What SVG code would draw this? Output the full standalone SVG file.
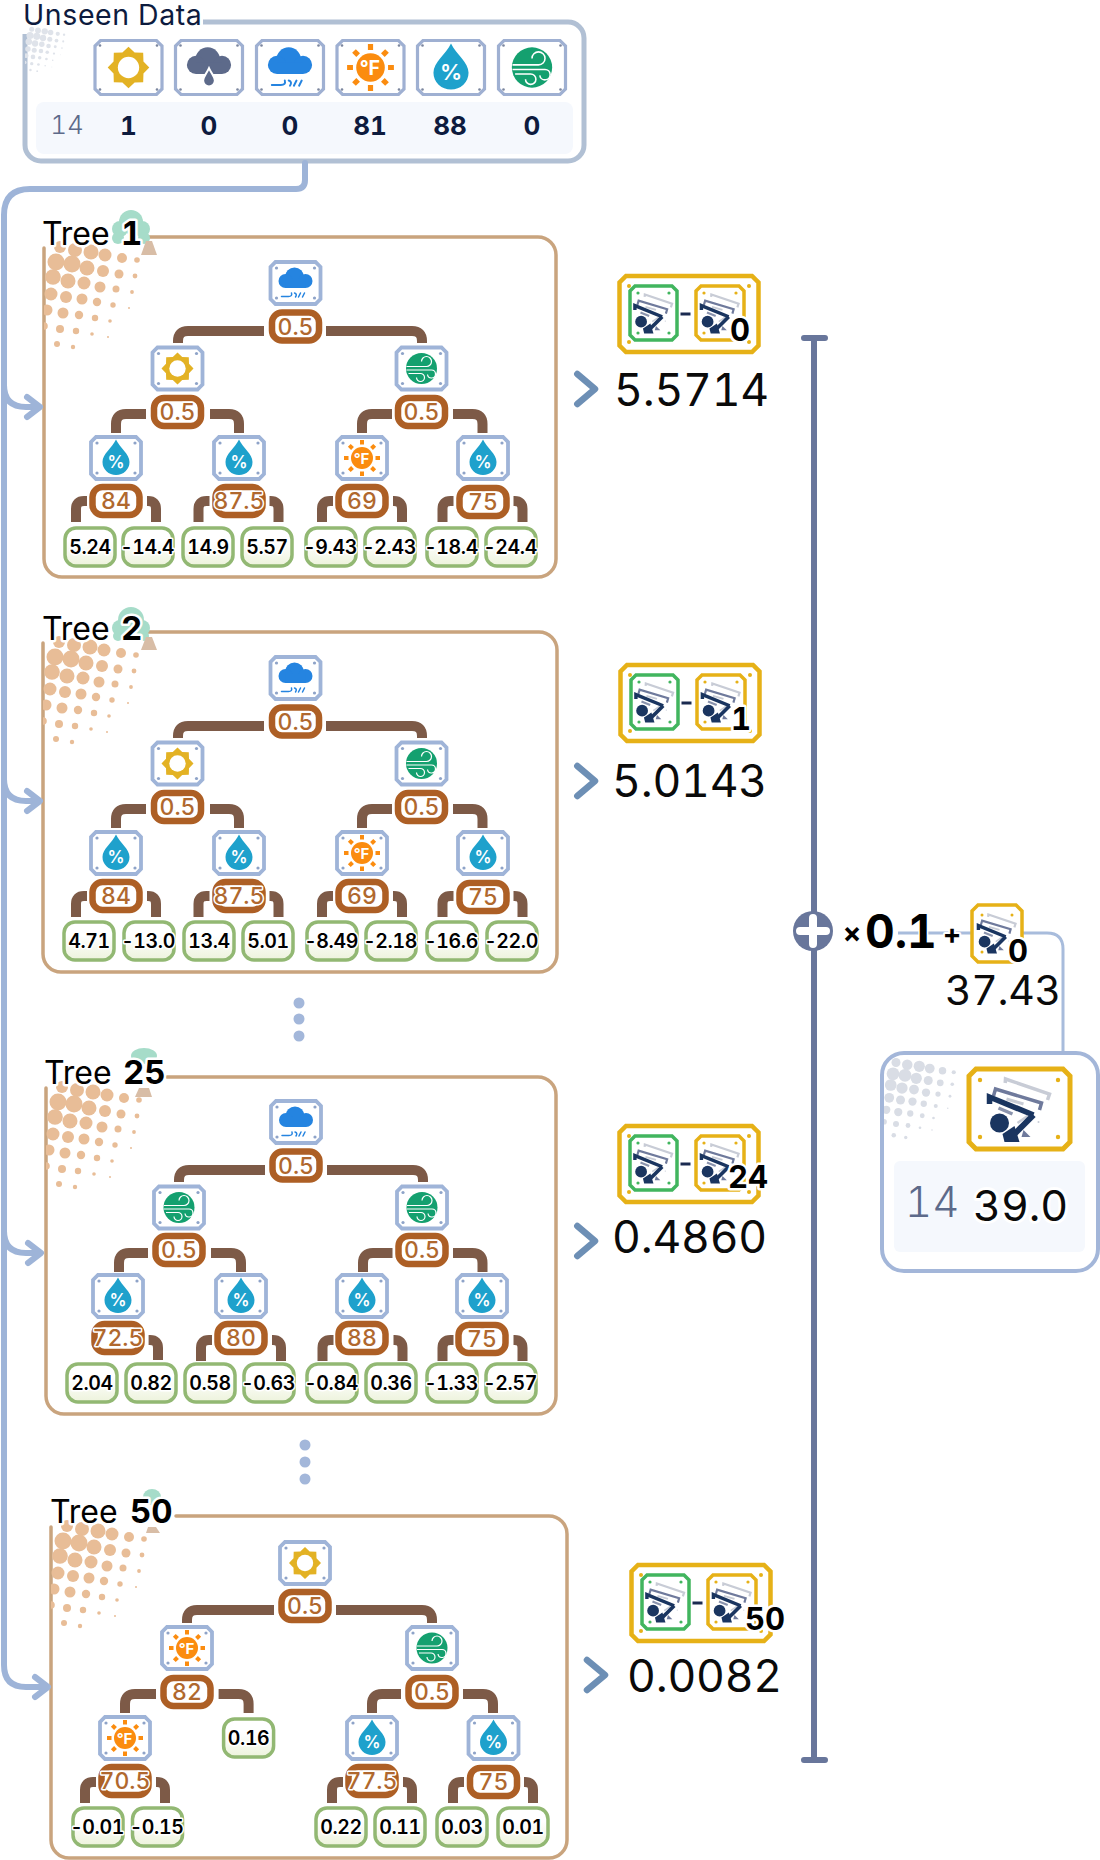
<svg xmlns="http://www.w3.org/2000/svg" width="1100" height="1860" viewBox="0 0 1100 1860">
<style>
text{font-family:Inter,"Noto Sans","Liberation Sans",sans-serif;font-feature-settings:"tnum"}
.halo{paint-order:stroke;stroke:#fff;stroke-linejoin:round}
.frame{fill:none;stroke:#c9a47e;stroke-width:3.5;stroke-linecap:round}
.title{font-size:32px;fill:#000;paint-order:stroke;stroke:#fff;stroke-width:5;stroke-linejoin:round}
.tnum{font-weight:700;font-size:33px}
.main{fill:none;stroke:#9eb4d8;stroke-width:6;stroke-linecap:round;stroke-linejoin:round}
.fork{fill:none;stroke:#7d5a47;stroke-width:10}
.chev{fill:none;stroke:#6d8fb5;stroke-width:6.5;stroke-linecap:round;stroke-linejoin:round}
.th{fill:#fff;stroke:#ad5f25;stroke-width:6.5}
.tht{font-size:23px;fill:#b0682e;font-weight:500;text-anchor:middle;paint-order:stroke;stroke:#fff;stroke-width:3;stroke-linejoin:round}
.lf{fill:url(#lfg);stroke:#92b873;stroke-width:3.5}
.lft{font-size:19.5px;letter-spacing:-.4px;fill:#000;font-weight:600;text-anchor:middle;paint-order:stroke;stroke:#fff;stroke-width:3;stroke-linejoin:round}
.val{font-size:44.5px;letter-spacing:-.2px;fill:#0a0a0a;paint-order:stroke;stroke:#fff;stroke-width:3}
.num{font-size:31px;font-weight:700;fill:#000;text-anchor:middle;paint-order:stroke;stroke:#fff;stroke-width:5;stroke-linejoin:round}
.dv{font-size:26px;font-weight:700;fill:#0d1b3e;text-anchor:middle}
</style>
<defs>
<linearGradient id="lfg" x1="0" y1="0" x2="0" y2="1"><stop offset="0.35" stop-color="#fff"/><stop offset="1" stop-color="#edf3dc"/></linearGradient>
<clipPath id="htc"><rect x="0" y="0" width="130" height="130"/></clipPath>
<g id="ht"><g clip-path="url(#htc)">
<circle cx="16" cy="10" r="6"/><circle cx="31" cy="13" r="7"/><circle cx="47" cy="15" r="7.5"/><circle cx="61" cy="18" r="6.5"/><circle cx="78" cy="21" r="5"/><circle cx="93" cy="23" r="2.8"/>
<circle cx="12" cy="25" r="8.5"/><circle cx="28" cy="27" r="8.5"/><circle cx="43" cy="31" r="7.5"/><circle cx="59" cy="34" r="6"/><circle cx="75" cy="37" r="4.5"/><circle cx="91" cy="39" r="2.4"/>
<circle cx="9" cy="40" r="7.8"/><circle cx="24" cy="44" r="7.5"/><circle cx="40" cy="46" r="6.5"/><circle cx="56" cy="50" r="5.5"/><circle cx="72" cy="52" r="3.5"/><circle cx="88" cy="55" r="1.9"/>
<circle cx="7" cy="57" r="6.5"/><circle cx="22" cy="60" r="6"/><circle cx="38" cy="62" r="5.5"/><circle cx="53" cy="65" r="4.2"/><circle cx="69" cy="68" r="2.7"/><circle cx="85" cy="71" r="1"/>
<circle cx="3" cy="73" r="5.5"/><circle cx="19" cy="76" r="5.5"/><circle cx="35" cy="78" r="4.2"/><circle cx="51" cy="81" r="3.2"/><circle cx="66" cy="84" r="1.8"/>
<circle cx="0" cy="89" r="3.8"/><circle cx="16" cy="92" r="4"/><circle cx="32" cy="94" r="3.2"/><circle cx="48" cy="97" r="1.8"/><circle cx="64" cy="100" r="1"/>
<circle cx="13" cy="107" r="3"/><circle cx="29" cy="110" r="2.2"/>
</g></g>
<g id="nf"><polygon points="-20,-21 20,-21 25,-16 25,16 20,21 -20,21 -25,16 -25,-16" fill="#fff" stroke="#9fb4d8" stroke-width="3.8"/><g fill="#8ea3c8"><circle cx="-19" cy="-15" r="1.6"/><circle cx="19" cy="-15" r="1.6"/><circle cx="-19" cy="15" r="1.6"/><circle cx="19" cy="15" r="1.6"/></g></g>
<g id="df"><polygon points="-28,-27 28,-27 33.5,-21.5 33.5,21.5 28,27 -28,27 -33.5,21.5 -33.5,-21.5" fill="#fff" stroke="#9fb0d2" stroke-width="3.2"/><g fill="#7c879f"><circle cx="-28.5" cy="-22" r="1.3"/><circle cx="28.5" cy="-22" r="1.3"/><circle cx="-28.5" cy="22" r="1.3"/><circle cx="28.5" cy="22" r="1.3"/></g></g>
<g id="g-sun"><polygon fill="#e3b224" points="16,0 11.5,4.7 11.3,11.3 4.7,11.5 0,16 -4.7,11.5 -11.3,11.3 -11.5,4.7 -16,0 -11.5,-4.7 -11.3,-11.3 -4.7,-11.5 0,-16 4.7,-11.5 11.3,-11.3 11.5,-4.7"/><circle r="8.2" fill="#fff"/></g>
<g id="cl"><circle cx="-1" cy="-6" r="9.5"/><circle cx="-10" cy="-2" r="7"/><circle cx="10" cy="-2" r="7"/><rect x="-10" y="-4" width="20" height="9"/></g>
<g id="g-rain"><use href="#cl" fill="#2584e0"/><path d="M-14 13.5H-7Q-3 13.5-4 10M-1 10Q2 11 0 14M5 10L3 14M9 10L7 14" fill="none" stroke="#2584e0" stroke-width="1.5" stroke-linecap="round"/></g>
<g id="g-drk"><use href="#cl" fill="#5d6a8a"/><path d="M0 .5C2 5 4.5 7 4.5 10A4.500 4.500 0 0 1-4.500 10C-4.500 7-2 5 0 .5Z" fill="#5d6a8a" stroke="#fff" stroke-width="1.5"/></g>
<g id="g-tmp"><g stroke="#fb8c0f" stroke-width="4"><path d="M13.5 0H18M-13.5 0H-18M0 13.5V18M0-13.5V-18"/><path d="M9.5 9.5L12.7 12.7M-9.5 9.5L-12.7 12.7M9.5-9.5L12.7-12.7M-9.5-9.5L-12.7-12.7"/></g><circle r="11" fill="#fb8c0f"/><text x="-.5" y="5.5" font-size="15" font-weight="700" fill="#fff" text-anchor="middle">°F</text></g>
<g id="g-hum"><path d="M0-18.500C4-10 13.500-4 13.500 4A13.500 13 0 0 1-13.500 4C-13.500-4-4-10 0-18.500Z" fill="#1ea1cc"/><text y="9.5" font-size="17" font-weight="600" fill="#fff" text-anchor="middle">%</text></g>
<g id="g-wnd"><circle r="15.5" fill="#14a06f"/><path d="M-15-2H5A5 5 0 1 0 0-7M-15 1.5H10A4 4 0 1 1 6 6M-13 5H-1A4 4 0 1 1-5 9" fill="none" stroke="#fff" stroke-width="1.2"/></g>
<g id="worker"><path d="M-14.300-26L-14-30L30-15L28-9" fill="none" stroke="#c8ccd6" stroke-width="3.5"/><path d="M-26-13L-24-20L22-6L20 1" fill="none" stroke="#6f7a9c" stroke-width="3.5"/><path d="M-13-10L4-5" stroke="#c8ccd6" stroke-width="3"/><path d="M-21-1L-7 5" stroke="#8a93ad" stroke-width="3.5"/><path d="M-2 14L8 7" stroke="#c8ccd6" stroke-width="2.5"/><path d="M-30-5V-12L14 6" fill="none" stroke="#1a3560" stroke-width="5.5"/><path d="M14 6L-5 25" fill="none" stroke="#1a3560" stroke-width="6"/><circle cx="-20" cy="14" r="9.5" fill="#1a3560"/><polygon points="-17,25 -5,17 0,33 -15,33" fill="#1a3560"/><polygon points="4,21 11,28 2,28" fill="#6f7a9c"/><circle cx="19" cy="13" r="1" fill="#c8ccd6"/></g>
<g id="res"><polygon points="9,2 135,2 141.500,8.500 141.500,71.500 135,78 9,78 2.500,71.500 2.500,8.500" fill="#fff" stroke="#e6b117" stroke-width="4.500"/><g fill="#e6b117"><circle cx="12" cy="12" r="2"/><circle cx="132" cy="12" r="2"/><circle cx="12" cy="68" r="2"/><circle cx="132" cy="68" r="2"/></g>
<polygon points="18,12 55,12 60,17 60,61 55,66 18,66 13,61 13,17" fill="#fff" stroke="#41b55e" stroke-width="3.5"/><g fill="#41b55e"><circle cx="21" cy="19" r="1.600"/><circle cx="52" cy="19" r="1.600"/><circle cx="21" cy="59" r="1.600"/><circle cx="52" cy="59" r="1.600"/></g><use href="#worker" transform="translate(36.500,39) scale(.62)"/>
<rect x="63.500" y="38.500" width="10" height="3" fill="#1a2a50"/>
<polygon points="84,12 122,12 127,17 127,61 122,66 84,66 79,61 79,17" fill="#fff" stroke="#e6b117" stroke-width="3.5"/><g fill="#e6b117"><circle cx="87" cy="19" r="1.600"/><circle cx="119" cy="19" r="1.600"/><circle cx="87" cy="59" r="1.600"/></g><use href="#worker" transform="translate(103,39) scale(.62)"/></g>
<path id="f3" d="M-29 0H-32Q-40 0-40 8V21M31 0H32Q40 0 40 8V21"/>
<rect id="th0" class="th" x="-23.500" y="-14" width="47" height="28" rx="10"/>
<rect id="lf0" class="lf" x="-25" y="-19" width="50" height="38" rx="11"/>
</defs>

<g id="unseen-data">
<path d="M203 22H568A16 16 0 0 1 584 38V145A16 16 0 0 1 568 161H41A16 16 0 0 1 25 145V34" fill="none" stroke="#b1c0d4" stroke-width="5"/>
<use href="#ht" transform="translate(25,25) scale(.42)" fill="#dfe3ea"/>
<rect x="36" y="102" width="537" height="52" rx="8" fill="#f5f8fd"/>
<text x="23" y="25" font-size="28.500" letter-spacing=".6" fill="#0d1b3e">Unseen Data</text>
<text x="67" y="134" font-size="26" font-weight="300" fill="#5d6a8a" text-anchor="middle">14</text>
<g id="d-sun" transform="translate(128.500,67.500)"><use href="#df"/><use href="#g-sun" transform="scale(1.300)"/></g>
<g id="d-prec" transform="translate(209,67.500)"><use href="#df"/><use href="#g-drk" transform="scale(1.300)"/></g>
<g id="d-rain" transform="translate(290,67.500)"><use href="#df"/><use href="#g-rain" transform="scale(1.300)"/></g>
<g id="d-temp" transform="translate(370.500,67.500)"><use href="#df"/><use href="#g-tmp" transform="scale(1.300)"/></g>
<g id="d-hum" transform="translate(451,67.500)"><use href="#df"/><use href="#g-hum" transform="scale(1.300)"/></g>
<g id="d-wind" transform="translate(532,67.500)"><use href="#df"/><use href="#g-wnd" transform="scale(1.300)"/></g>
<g><text class="dv" x="128.500" y="135">1</text><text class="dv" x="209" y="135">0</text><text class="dv" x="290" y="135">0</text><text class="dv" x="370" y="135">81</text><text class="dv" x="450" y="135">88</text><text class="dv" x="532" y="135">0</text></g>
</g>

<g id="frames">
<g id="tree-1-frame">
<path class="frame" d="M148 237H538A18 18 0 0 1 556 255V559A18 18 0 0 1 538 577H62A18 18 0 0 1 44 559V248"/>
<use href="#ht" transform="translate(44,237)" fill="#e8bd97"/>
<g fill="#a6dcc9"><circle cx="131" cy="222" r="12"/><circle cx="120" cy="229" r="8"/><circle cx="142" cy="229" r="8"/><circle cx="118" cy="238" r="6"/><circle cx="144" cy="238" r="6"/></g><polygon points="146,241 152,241 157,255 141,255" fill="#d8bda6"/>
<text class="title" x="42" y="245">Tree</text><text class="title tnum" x="121" y="245">1</text>
</g>
<g id="tree-2-frame">
<path class="frame" d="M148 632H539A18 18 0 0 1 557 650V954A18 18 0 0 1 539 972H61A18 18 0 0 1 43 954V643"/>
<use href="#ht" transform="translate(43,632)" fill="#e8bd97"/>
<g fill="#a6dcc9"><circle cx="131" cy="620" r="13"/><circle cx="120" cy="628" r="8"/><circle cx="142" cy="628" r="8"/><circle cx="118" cy="636" r="5"/><circle cx="144" cy="636" r="5"/></g><polygon points="146,637 152,637 157,650 141,650" fill="#d8bda6"/>
<text class="title" x="42" y="640">Tree</text><text class="title tnum" x="121" y="640">2</text>
</g>
<g id="tree-25-frame">
<path class="frame" d="M167 1077H538A18 18 0 0 1 556 1095V1396A18 18 0 0 1 538 1414H64A18 18 0 0 1 46 1396V1088"/>
<use href="#ht" transform="translate(46,1077)" fill="#e8bd97"/>
<ellipse cx="144" cy="1056" rx="13" ry="8" fill="#a6dcc9"/><polygon points="139,1088 149,1088 152,1097 135,1097" fill="#d8bda6"/>
<text class="title" x="44" y="1084">Tree</text><text class="title tnum" x="123" y="1084">25</text>
</g>
<g id="tree-50-frame">
<path class="frame" d="M176 1516H549A18 18 0 0 1 567 1534V1840A18 18 0 0 1 549 1858H69A18 18 0 0 1 51 1840V1527"/>
<use href="#ht" transform="translate(51,1516)" fill="#e8bd97"/>
<ellipse cx="152" cy="1497" rx="9" ry="8" fill="#a6dcc9"/><polygon points="148,1527 156,1527 160,1533 146,1533" fill="#d8bda6"/>
<text class="title" x="50" y="1523">Tree</text><text class="title tnum" x="130" y="1523">50</text>
</g>
</g>

<g id="connectors">
<path class="main" d="M305 163V180Q305 189 296 189H30Q4 189 4 215V1665Q4 1687 26 1687H46M4 385Q4 407 26 407H38M4 779Q4 801 26 801H38M4 1231Q4 1253 26 1253H39"/>
<path class="main" d="M27 397L40 407L27 417M27 791L40 801L27 811M28 1243L41 1253L28 1263M35 1677L48 1687L35 1697"/>
<path class="chev" d="M577.300 374L595 389L577.300 404M577.300 766L595 781L577.300 796M577.300 1226L595 1241L577.300 1256M587 1660L605 1675L587 1690"/>
<path d="M814 338V1760M804 338H825M804 1760H825" fill="none" stroke="#68769b" stroke-width="6" stroke-linecap="round"/>
<path d="M898 933H1047Q1063 933 1063 949V1053" fill="none" stroke="#a8bcdc" stroke-width="3"/>
<g class="fork">
<path d="M264 331H188Q178 331 178 341V343M326 331H412Q422 331 422 341V343M146 414H126Q116 414 116 424V433M210 414H229Q239 414 239 424V433M392 414H372Q362 414 362 424V433M453 414H472.500Q482.500 414 482.500 424V433"/>
<use href="#f3" x="116" y="501"/><use href="#f3" x="238.500" y="501"/><use href="#f3" x="362" y="501"/><use href="#f3" x="482.500" y="501"/>
<path d="M264 726H188Q178 726 178 736V738M326 726H412Q422 726 422 736V738M146 809H126Q116 809 116 819V828M210 809H229Q239 809 239 819V828M392 809H372Q362 809 362 819V828M453 809H472.500Q482.500 809 482.500 819V828"/>
<use href="#f3" x="116" y="896"/><use href="#f3" x="238.500" y="896"/><use href="#f3" x="362" y="896"/><use href="#f3" x="482.500" y="896"/>
<path d="M265 1170H189Q179 1170 179 1180V1182M327 1170H413Q423 1170 423 1180V1182M148 1253H129Q119 1253 119 1263V1272M211 1253H231Q241 1253 241 1263V1272M392.500 1253H373Q363 1253 363 1263V1272M453 1253H472.500Q482.500 1253 482.500 1263V1272"/>
<path d="M148.600 1340H150Q158 1340 158 1348V1360"/>
<use href="#f3" x="241" y="1340"/><use href="#f3" x="362.500" y="1340"/><use href="#f3" x="482.500" y="1340"/>
<path d="M274 1610H197Q187 1610 187 1620V1623M336 1610H422Q432 1610 432 1620V1623M156 1694H135Q125 1694 125 1704V1713M218.600 1694H238.600Q248.600 1694 248.600 1704V1713M401 1694H382Q372 1694 372 1704V1713M463 1694H483Q493 1694 493 1704V1713"/>
<use href="#f3" x="125" y="1782"/><use href="#f3" x="372" y="1782"/><use href="#f3" x="493" y="1782"/>
</g>
<g fill="#a3b7da"><circle cx="299" cy="1003" r="5.500"/><circle cx="299" cy="1019" r="5.500"/><circle cx="299" cy="1036" r="5.500"/><circle cx="305" cy="1445" r="5.500"/><circle cx="305" cy="1462" r="5.500"/><circle cx="305" cy="1479" r="5.500"/></g>
</g>

<g id="tree-1-nodes">
<g id="t1-i0" transform="translate(295.500,283)"><use href="#nf"/><use href="#g-rain"/></g>
<g id="t1-t0" transform="translate(295.500,326.500)"><use href="#th0"/><text class="tht" y="8">0.5</text></g>
<g id="t1-i1" transform="translate(177.500,368.500)"><use href="#nf"/><use href="#g-sun"/></g>
<g id="t1-t1" transform="translate(177.500,412)"><use href="#th0"/><text class="tht" y="8">0.5</text></g>
<g id="t1-i2" transform="translate(421.500,368.500)"><use href="#nf"/><use href="#g-wnd"/></g>
<g id="t1-t2" transform="translate(421.500,412)"><use href="#th0"/><text class="tht" y="8">0.5</text></g>
<g id="t1-i3" transform="translate(116,458)"><use href="#nf"/><use href="#g-hum"/></g>
<g id="t1-t3" transform="translate(116,501)"><use href="#th0"/><text class="tht" y="8">84</text></g>
<g id="t1-i4" transform="translate(239,458)"><use href="#nf"/><use href="#g-hum"/></g>
<g id="t1-t4" transform="translate(239,501)"><use href="#th0"/><text class="tht" y="8">87.5</text></g>
<g id="t1-i5" transform="translate(362,458)"><use href="#nf"/><use href="#g-tmp"/></g>
<g id="t1-t5" transform="translate(362,501)"><use href="#th0"/><text class="tht" y="8">69</text></g>
<g id="t1-i6" transform="translate(483,458)"><use href="#nf"/><use href="#g-hum"/></g>
<g id="t1-t6" transform="translate(483,502)"><use href="#th0"/><text class="tht" y="8">75</text></g>
<g id="t1-l0" transform="translate(90,547)"><use href="#lf0"/><text class="lft" y="7">5.24</text></g>
<g id="t1-l1" transform="translate(148,547)"><use href="#lf0"/><text class="lft" x="-1" y="7">-14.4</text></g>
<g id="t1-l2" transform="translate(208,547)"><use href="#lf0"/><text class="lft" y="7">14.9</text></g>
<g id="t1-l3" transform="translate(267,547)"><use href="#lf0"/><text class="lft" y="7">5.57</text></g>
<g id="t1-l4" transform="translate(331,547)"><use href="#lf0"/><text class="lft" x="-1" y="7">-9.43</text></g>
<g id="t1-l5" transform="translate(390,547)"><use href="#lf0"/><text class="lft" x="-1" y="7">-2.43</text></g>
<g id="t1-l6" transform="translate(452,547)"><use href="#lf0"/><text class="lft" x="-1" y="7">-18.4</text></g>
<g id="t1-l7" transform="translate(511,547)"><use href="#lf0"/><text class="lft" x="-1" y="7">-24.4</text></g>
</g>

<g id="tree-2-nodes">
<g id="t2-i0" transform="translate(295.500,678)"><use href="#nf"/><use href="#g-rain"/></g>
<g id="t2-t0" transform="translate(295.500,721.500)"><use href="#th0"/><text class="tht" y="8">0.5</text></g>
<g id="t2-i1" transform="translate(177.500,763.500)"><use href="#nf"/><use href="#g-sun"/></g>
<g id="t2-t1" transform="translate(177.500,807)"><use href="#th0"/><text class="tht" y="8">0.5</text></g>
<g id="t2-i2" transform="translate(421.500,763.500)"><use href="#nf"/><use href="#g-wnd"/></g>
<g id="t2-t2" transform="translate(421.500,807)"><use href="#th0"/><text class="tht" y="8">0.5</text></g>
<g id="t2-i3" transform="translate(116,853)"><use href="#nf"/><use href="#g-hum"/></g>
<g id="t2-t3" transform="translate(116,896)"><use href="#th0"/><text class="tht" y="8">84</text></g>
<g id="t2-i4" transform="translate(239,853)"><use href="#nf"/><use href="#g-hum"/></g>
<g id="t2-t4" transform="translate(239,896)"><use href="#th0"/><text class="tht" y="8">87.5</text></g>
<g id="t2-i5" transform="translate(362,853)"><use href="#nf"/><use href="#g-tmp"/></g>
<g id="t2-t5" transform="translate(362,896)"><use href="#th0"/><text class="tht" y="8">69</text></g>
<g id="t2-i6" transform="translate(483,853)"><use href="#nf"/><use href="#g-hum"/></g>
<g id="t2-t6" transform="translate(483,897)"><use href="#th0"/><text class="tht" y="8">75</text></g>
<g id="t2-l0" transform="translate(89,941)"><use href="#lf0"/><text class="lft" y="7">4.71</text></g>
<g id="t2-l1" transform="translate(149,941)"><use href="#lf0"/><text class="lft" x="-1" y="7">-13.0</text></g>
<g id="t2-l2" transform="translate(209,941)"><use href="#lf0"/><text class="lft" y="7">13.4</text></g>
<g id="t2-l3" transform="translate(268,941)"><use href="#lf0"/><text class="lft" y="7">5.01</text></g>
<g id="t2-l4" transform="translate(332,941)"><use href="#lf0"/><text class="lft" x="-1" y="7">-8.49</text></g>
<g id="t2-l5" transform="translate(391,941)"><use href="#lf0"/><text class="lft" x="-1" y="7">-2.18</text></g>
<g id="t2-l6" transform="translate(452,941)"><use href="#lf0"/><text class="lft" x="-1" y="7">-16.6</text></g>
<g id="t2-l7" transform="translate(512,941)"><use href="#lf0"/><text class="lft" x="-1" y="7">-22.0</text></g>
</g>

<g id="tree-25-nodes">
<g id="t25-i0" transform="translate(296,1122)"><use href="#nf"/><use href="#g-rain"/></g>
<g id="t25-t0" transform="translate(296,1165.500)"><use href="#th0"/><text class="tht" y="8">0.5</text></g>
<g id="t25-i1" transform="translate(179,1207.500)"><use href="#nf"/><use href="#g-wnd"/></g>
<g id="t25-t1" transform="translate(179,1250)"><use href="#th0"/><text class="tht" y="8">0.5</text></g>
<g id="t25-i2" transform="translate(422,1207.500)"><use href="#nf"/><use href="#g-wnd"/></g>
<g id="t25-t2" transform="translate(422,1250)"><use href="#th0"/><text class="tht" y="8">0.5</text></g>
<g id="t25-i3" transform="translate(118,1296)"><use href="#nf"/><use href="#g-hum"/></g>
<g id="t25-t3" transform="translate(118,1338)"><use href="#th0"/><text class="tht" y="8">72.5</text></g>
<g id="t25-i4" transform="translate(241,1296)"><use href="#nf"/><use href="#g-hum"/></g>
<g id="t25-t4" transform="translate(241,1338)"><use href="#th0"/><text class="tht" y="8">80</text></g>
<g id="t25-i5" transform="translate(362,1296)"><use href="#nf"/><use href="#g-hum"/></g>
<g id="t25-t5" transform="translate(362,1338)"><use href="#th0"/><text class="tht" y="8">88</text></g>
<g id="t25-i6" transform="translate(482,1296)"><use href="#nf"/><use href="#g-hum"/></g>
<g id="t25-t6" transform="translate(482,1339)"><use href="#th0"/><text class="tht" y="8">75</text></g>
<g id="t25-l0" transform="translate(92,1383)"><use href="#lf0"/><text class="lft" y="7">2.04</text></g>
<g id="t25-l1" transform="translate(151,1383)"><use href="#lf0"/><text class="lft" y="7">0.82</text></g>
<g id="t25-l2" transform="translate(210,1383)"><use href="#lf0"/><text class="lft" y="7">0.58</text></g>
<g id="t25-l3" transform="translate(269,1383)"><use href="#lf0"/><text class="lft" x="-1" y="7">-0.63</text></g>
<g id="t25-l4" transform="translate(332,1383)"><use href="#lf0"/><text class="lft" x="-1" y="7">-0.84</text></g>
<g id="t25-l5" transform="translate(391,1383)"><use href="#lf0"/><text class="lft" y="7">0.36</text></g>
<g id="t25-l6" transform="translate(452,1383)"><use href="#lf0"/><text class="lft" x="-1" y="7">-1.33</text></g>
<g id="t25-l7" transform="translate(511,1383)"><use href="#lf0"/><text class="lft" x="-1" y="7">-2.57</text></g>
</g>

<g id="tree-50-nodes">
<g id="t50-i0" transform="translate(305,1563)"><use href="#nf"/><use href="#g-sun"/></g>
<g id="t50-t0" transform="translate(305,1606)"><use href="#th0"/><text class="tht" y="8">0.5</text></g>
<g id="t50-i1" transform="translate(187,1648)"><use href="#nf"/><use href="#g-tmp"/></g>
<g id="t50-t1" transform="translate(187,1692)"><use href="#th0"/><text class="tht" y="8">82</text></g>
<g id="t50-i2" transform="translate(432,1648)"><use href="#nf"/><use href="#g-wnd"/></g>
<g id="t50-t2" transform="translate(432,1692)"><use href="#th0"/><text class="tht" y="8">0.5</text></g>
<g id="t50-i3" transform="translate(125,1738)"><use href="#nf"/><use href="#g-tmp"/></g>
<g id="t50-t3" transform="translate(125,1781)"><use href="#th0"/><text class="tht" y="8">70.5</text></g>
<g id="t50-l8" transform="translate(248.600,1738)"><use href="#lf0"/><text class="lft" y="7">0.16</text></g>
<g id="t50-i5" transform="translate(372,1738)"><use href="#nf"/><use href="#g-hum"/></g>
<g id="t50-t5" transform="translate(372,1781)"><use href="#th0"/><text class="tht" y="8">77.5</text></g>
<g id="t50-i6" transform="translate(493.500,1738)"><use href="#nf"/><use href="#g-hum"/></g>
<g id="t50-t6" transform="translate(493.500,1782)"><use href="#th0"/><text class="tht" y="8">75</text></g>
<g id="t50-l0" transform="translate(98,1827)"><use href="#lf0"/><text class="lft" x="-1" y="7">-0.01</text></g>
<g id="t50-l1" transform="translate(157.500,1827)"><use href="#lf0"/><text class="lft" x="-1" y="7">-0.15</text></g>
<g id="t50-l4" transform="translate(341,1827)"><use href="#lf0"/><text class="lft" y="7">0.22</text></g>
<g id="t50-l5" transform="translate(400,1827)"><use href="#lf0"/><text class="lft" y="7">0.11</text></g>
<g id="t50-l6" transform="translate(462,1827)"><use href="#lf0"/><text class="lft" y="7">0.03</text></g>
<g id="t50-l7" transform="translate(523,1827)"><use href="#lf0"/><text class="lft" y="7">0.01</text></g>
</g>

<g id="result-1"><use href="#res" x="617" y="274"/><text class="num" x="740" y="341">0</text><text class="val" x="614" y="406">5.5714</text></g>
<g id="result-2"><use href="#res" x="618" y="663"/><text class="num" x="741" y="730">1</text><text class="val" x="612" y="797">5.0143</text></g>
<g id="result-25"><use href="#res" x="617" y="1124"/><text class="num" x="748" y="1188">24</text><text class="val" x="612" y="1253">0.4860</text></g>
<g id="result-50"><use href="#res" x="629" y="1563"/><text class="num" x="765" y="1630">50</text><text class="val" x="627" y="1692">0.0082</text></g>

<g id="sum">
<circle cx="813" cy="931" r="20" fill="#68769b"/><path d="M800 931H826M813 918V944" stroke="#fff" stroke-width="8" stroke-linecap="round"/>
<text x="852" y="943" font-size="28" font-weight="700" text-anchor="middle" fill="#000">×</text>
<text x="865" y="948" font-size="46" font-weight="700" fill="#000" class="halo" stroke-width="3">0.1</text>
<text x="952" y="944" font-size="28" font-weight="700" text-anchor="middle" fill="#000" class="halo" stroke-width="4">+</text>
<g id="base-small"><polygon points="978,905 1016,905 1022,911 1022,956 1016,962 978,962 972,956 972,911" fill="#fff" stroke="#e6b117" stroke-width="3.500"/><g fill="#e6b117"><circle cx="982" cy="915" r="1.500"/><circle cx="1012" cy="915" r="1.500"/><circle cx="982" cy="952" r="1.500"/></g><use href="#worker" transform="translate(997,933) scale(.62)"/><text class="num" x="1018" y="962">0</text></g>
<text x="945" y="1005" font-size="41" letter-spacing="-.3" fill="#0a0a0a" class="halo" stroke-width="3">37.43</text>
</g>

<g id="prediction">
<rect x="882" y="1053" width="216" height="218" rx="22" fill="#fff" stroke="#a3b6d9" stroke-width="4"/>
<use href="#ht" transform="translate(884,1055) scale(.75)" fill="#d9dde5"/>
<rect x="894" y="1161" width="191" height="91" rx="6" fill="#f5f8fd"/>
<g id="pred-icon"><polygon points="976,1069 1063,1069 1070,1076 1070,1142 1063,1149 976,1149 969,1142 969,1076" fill="#fff" stroke="#e6b117" stroke-width="5"/><g fill="#e6b117"><circle cx="980" cy="1080" r="2.200"/><circle cx="1058" cy="1080" r="2.200"/><circle cx="980" cy="1137" r="2.200"/><circle cx="1058" cy="1137" r="2.200"/></g><use href="#worker" transform="translate(1019.500,1109)"/></g>
<text x="905" y="1217" font-size="42" font-weight="300" fill="#5d6a8a">14</text>
<text x="973" y="1221" font-size="43" fill="#0a0a0a" class="halo" stroke-width="6">39.0</text>
</g>
</svg>
